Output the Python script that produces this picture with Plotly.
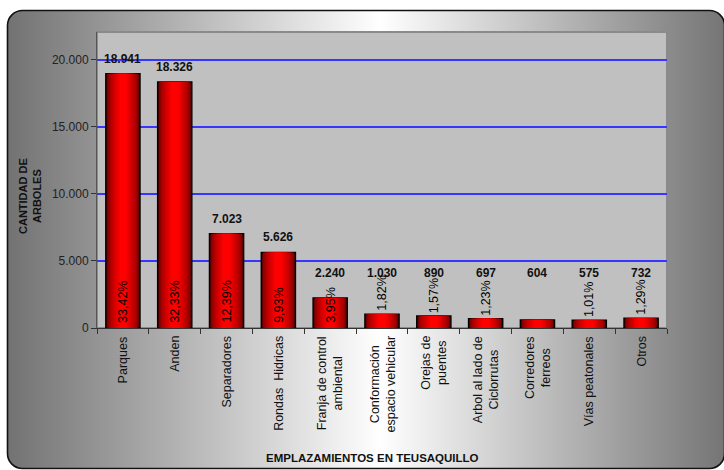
import base64
import plotly.graph_objects as go

# ---------------- data ----------------
categories = ["Parques", "Anden", "Separadores", "Rondas  Hidricas",
              "Franja de control<br>ambiental", "Conformación<br>espacio vehicular",
              "Orejas de<br>puentes", "Arbol al lado de<br>Ciclorrutas",
              "Corredores<br>ferreos", "Vías peatonales", "Otros"]
values = [18941, 18326, 7023, 5626, 2240, 1030, 890, 697, 604, 575, 732]
value_labels = ["18.941", "18.326", "7.023", "5.626", "2.240", "1.030",
                "890", "697", "604", "575", "732"]
pct_labels = ["33,42%", "32,33%", "12,39%", "9,93%", "3,95%", "1,82%",
              "1,57%", "1,23%", "", "1,01%", "1,29%"]
y_tickvals = [0, 5000, 10000, 15000, 20000]
y_ticktext = ["0", "5.000", "10.000", "15.000", "20.000"]
y_title = "CANTIDAD DE<br>ARBOLES"
x_title = "EMPLAZAMIENTOS EN TEUSAQUILLO"

# ---------------- layout constants ----------------
W, H = 724, 470
ML, MR, MT, MB = 97, 57, 32, 142
PW, PH = W - ML - MR, H - MT - MB
FONT = "Liberation Sans, Arial, sans-serif"
LABEL_FLOOR = 3450      # value labels of short bars sit at this level
PCT_INSIDE_MIN = 2000   # bars at least this tall get their % at the base

fig = go.Figure()

# gradient bars simulated with overlaid bars of decreasing width
n_steps = 9
outer_w, inner_w = 0.66, 0.14
dark = (96, 0, 0)
bright = (255, 0, 0)
for i in range(n_steps):
    t = i / (n_steps - 1)
    w = outer_w - (outer_w - inner_w) * t
    f = t ** 0.6
    col = tuple(int(dark[k] + (bright[k] - dark[k]) * f) for k in range(3))
    fig.add_trace(go.Bar(
        x=categories, y=values, width=w,
        marker=dict(color="rgb(%d,%d,%d)" % col,
                    line=dict(color="#000000" if i == 0 else "rgba(0,0,0,0)",
                              width=1.4 if i == 0 else 0)),
        hoverinfo="skip", showlegend=False))

annotations = []
for c, v, vl, pl in zip(categories, values, value_labels, pct_labels):
    # value label
    above = v > LABEL_FLOOR
    annotations.append(dict(
        x=c, y=max(v, LABEL_FLOOR), xref="x", yref="y", text=vl,
        showarrow=False, yanchor="bottom", yshift=6 if above else 0,
        font=dict(family=FONT, size=12, color="#111111", weight="bold")))
    # percentage label
    if pl:
        inside = v >= PCT_INSIDE_MIN
        annotations.append(dict(
            x=c, y=0 if inside else v, xref="x", yref="y", text=pl,
            showarrow=False, textangle=-90, yanchor="bottom",
            yshift=3 if inside else 1,
            font=dict(family=FONT, size=12.5, color="#000000")))
    # category label (rotated, centred lines)
    annotations.append(dict(
        x=c, y=0, xref="x", yref="paper", text=c, showarrow=False,
        textangle=-90, yanchor="top", align="center", yshift=-6,
        font=dict(family=FONT, size=12.5, color="#111111")))

annotations.append(dict(
    x=(372 - ML) / PW, y=-(458 - MT - PH) / PH, xref="paper", yref="paper",
    text="<b>" + x_title + "</b>", showarrow=False,
    xanchor="center", yanchor="middle",
    font=dict(family=FONT, size=11.5, color="#111111")))
annotations.append(dict(
    x=(30 - ML) / PW, y=1 - (196 - MT) / PH, xref="paper", yref="paper",
    text="<b>" + y_title + "</b>", showarrow=False, textangle=-90,
    xanchor="center", yanchor="middle",
    font=dict(family=FONT, size=11, color="#111111")))

# background panel with horizontal gradient and rounded corners
svg = (
    '<svg xmlns="http://www.w3.org/2000/svg" width="%d" height="%d" viewBox="0 0 %d %d">'
    '<defs><linearGradient id="g" x1="0" y1="0" x2="1" y2="0">'
    '<stop offset="0" stop-color="#727272"/>'
    '<stop offset="0.52" stop-color="#ffffff"/>'
    '<stop offset="1" stop-color="#757575"/>'
    '</linearGradient></defs>'
    '<rect x="7.5" y="10.5" width="717" height="458" rx="15" ry="15" '
    'fill="url(#g)" stroke="#111" stroke-width="1.6"/></svg>'
) % (W, H, W, H)
src = "data:image/svg+xml;base64," + base64.b64encode(svg.encode()).decode()

fig.update_layout(
    width=W, height=H,
    margin=dict(l=ML, r=MR, t=MT, b=MB, pad=0),
    paper_bgcolor="#ffffff", plot_bgcolor="#c0c0c0",
    barmode="overlay", separators=",.",
    showlegend=False,
    images=[dict(source=src, xref="paper", yref="paper",
                 x=-ML / PW, y=1 + MT / PH, sizex=W / PW, sizey=H / PH,
                 xanchor="left", yanchor="top", sizing="stretch", layer="below")],
    shapes=[dict(type="rect", xref="paper", yref="paper", x0=0, x1=1, y0=0, y1=1,
                 fillcolor="#c0c0c0", line=dict(color="#8a8a8a", width=2),
                 layer="below")],
    annotations=annotations,
    xaxis=dict(type="category", showticklabels=False, tickson="boundaries",
               ticks="outside", ticklen=5, tickcolor="#333333",
               showline=True, linecolor="#333333", linewidth=1,
               showgrid=False, zeroline=False, fixedrange=True),
    yaxis=dict(range=[0, 22050], tickvals=y_tickvals, ticktext=y_ticktext,
               ticks="outside", ticklen=5, tickcolor="#333333",
               showline=True, linecolor="#555555", linewidth=1,
               showgrid=True, gridcolor="#3636ff", gridwidth=2,
               zeroline=False,
               tickfont=dict(family=FONT, size=12, color="#222222")),
)

fig.write_html("out.html", config={"displayModeBar": False},
               post_script="document.body.style.margin='0';document.body.style.overflow='hidden';")
